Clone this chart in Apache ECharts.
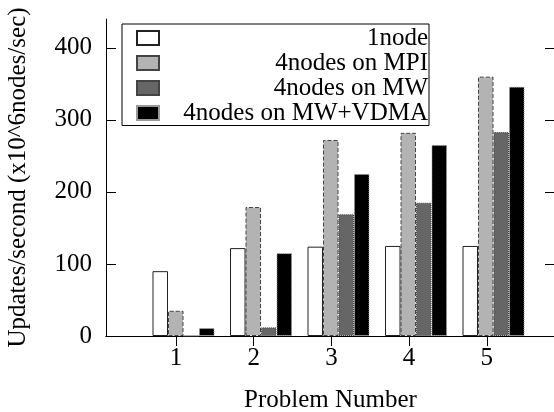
<!DOCTYPE html>
<html>
<head>
<meta charset="utf-8">
<script src="https://cdn.jsdelivr.net/npm/echarts@6/dist/echarts.min.js"></script>
<style>
  html, body { margin: 0; padding: 0; background: #fff; }
  #main { width: 554px; height: 412px; }
</style>
</head>
<body>
<div id="main"></div>
<script>
const problems = ["1", "2", "3", "4", "5"];
const oneNode = [90, 122, 124, 125, 125];
const mpi = [35, 179, 272, 282, 360];
const mw = [0, 12, 169, 185, 283];
const mwVdma = [11, 115, 225, 265, 346];
const yTicks = [0, 100, 200, 300, 400];
const xTicks = [1, 2, 3, 4, 5];

const font = "Liberation Serif";
const chart = echarts.init(document.getElementById("main"));

// frame grid: left 106, right at 555 (just off the picture), y 0..440
const frameGrid = { left: 106, top: 19, width: 449, height: 317, outerBoundsMode: "none", containLabel: false };
// bar grid: same vertical scale, narrower so groups sit where gnuplot put them
const barGrid = { left: 144.75, top: 19, width: 387.5, height: 317, outerBoundsMode: "none", containLabel: false };

function barSeries(name, data, style) {
  return {
    name: name,
    type: "bar",
    xAxisIndex: 2,
    yAxisIndex: 2,
    data: data,
    barWidth: 15.5,
    barGap: "0%",
    itemStyle: style,
    emphasis: { disabled: true },
  };
}

const options = {
  animation: false,
  textStyle: { fontFamily: font },
  grid: [frameGrid, barGrid],
  legend: {
    orient: "vertical",
    left: 122,
    top: 24,
    borderColor: "#000",
    borderWidth: 1,
    borderRadius: 0,
    padding: [1.5, 1, 0, 14],
    itemGap: 0,
    itemWidth: 22,
    itemHeight: 14,
    icon: "rect",
    selectedMode: false,
    formatter: (name) => "{a|" + name + "}",
    textStyle: {
      fontFamily: font,
      rich: {
        a: {
          width: 264,
          align: "right",
          fontFamily: font,
          fontSize: 25,
          lineHeight: 25.5,
          color: "#000",
        },
      },
    },
  },
  xAxis: [
    {
      gridIndex: 0,
      type: "value",
      position: "bottom",
      min: 0.099,
      max: 5.878,
      name: "Problem Number",
      nameLocation: "middle",
      nameGap: 52,
      nameTextStyle: { fontFamily: font, fontSize: 25, color: "#000" },
      axisLine: { lineStyle: { color: "#000", width: 1 } },
      axisTick: { inside: true, length: 10, customValues: xTicks, lineStyle: { color: "#000" } },
      axisLabel: { customValues: xTicks, margin: 10, fontFamily: font, fontSize: 25, color: "#000" },
      splitLine: { show: false },
    },
    {
      gridIndex: 0,
      type: "value",
      position: "top",
      min: 0.099,
      max: 5.878,
      axisLine: { lineStyle: { color: "#000", width: 1 } },
      axisTick: { inside: true, length: 10, customValues: xTicks, lineStyle: { color: "#000" } },
      axisLabel: { show: false },
      splitLine: { show: false },
    },
    {
      gridIndex: 1,
      type: "category",
      data: problems,
      show: false,
    },
  ],
  yAxis: [
    {
      gridIndex: 0,
      type: "value",
      position: "left",
      min: 0,
      max: 440,
      name: "Updates/second (x10^6nodes/sec)",
      nameLocation: "middle",
      nameGap: 75,
      nameRotate: 90,
      nameTextStyle: { fontFamily: font, fontSize: 25, color: "#000" },
      axisLine: { show: true, lineStyle: { color: "#000", width: 1 } },
      axisTick: { show: true, inside: true, length: 10, customValues: yTicks, lineStyle: { color: "#000" } },
      axisLabel: { customValues: yTicks, margin: 14, fontFamily: font, fontSize: 25, color: "#000" },
      splitLine: { show: false },
    },
    {
      gridIndex: 0,
      type: "value",
      position: "right",
      min: 0,
      max: 440,
      axisLine: { show: true, lineStyle: { color: "#000", width: 1 } },
      axisTick: { show: true, inside: true, length: 10, customValues: yTicks, lineStyle: { color: "#000" } },
      axisLabel: { show: false },
      splitLine: { show: false },
    },
    {
      gridIndex: 1,
      type: "value",
      min: 0,
      max: 440,
      show: false,
    },
  ],
  series: [
    barSeries("1node", oneNode, { color: "#fff", borderColor: "#222", borderWidth: 1 }),
    barSeries("4nodes on MPI", mpi, { color: "#b3b3b3", borderColor: "#444", borderWidth: 1, borderType: "dashed" }),
    barSeries("4nodes on MW", mw, { color: "#666666", borderColor: "#444", borderWidth: 1, borderType: "dotted" }),
    barSeries("4nodes on MW+VDMA", mwVdma, { color: "#000", borderColor: "#999", borderWidth: 1, borderType: "dotted" }),
  ],
};

chart.setOption(options);
</script>
</body>
</html>
